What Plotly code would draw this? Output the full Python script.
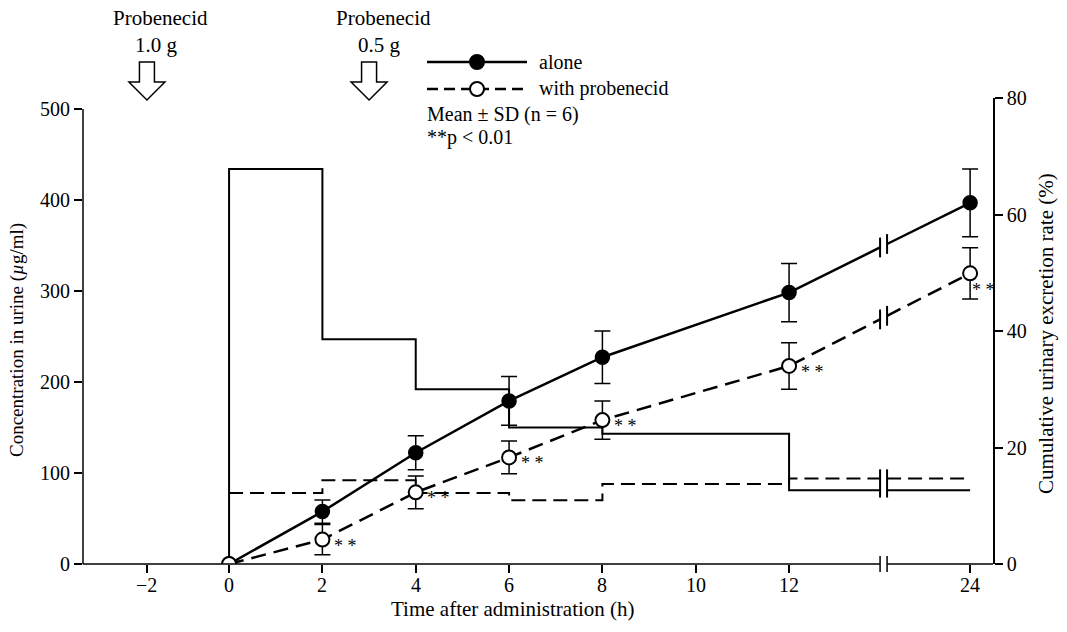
import plotly.graph_objects as go

# ---------------- data ----------------
x_tick_hours = [-2, 0, 2, 4, 6, 8, 10, 12, 24]
x_tick_labels = ["−2", "0", "2", "4", "6", "8", "10", "12", "24"]

step_edges = [0, 2, 4, 6, 8, 12, 24]          # urine collection intervals (h)
conc_alone = [434, 247, 192, 150, 143, 81]     # µg/ml
conc_prob = [78, 92, 78, 70, 88, 94]           # µg/ml

sample_times = [0, 2, 4, 6, 8, 12, 24]
cum_alone = [0, 9.0, 19.1, 28.0, 35.5, 46.6, 62.0]       # %
cum_alone_sd = [0, 2.0, 2.9, 4.2, 4.5, 5.0, 5.8]
cum_prob = [0, 4.2, 12.3, 18.3, 24.7, 34.0, 49.9]        # %
cum_prob_sd = [0, 2.6, 2.8, 2.8, 3.3, 4.0, 4.4]
signif_times = [2, 4, 6, 8, 12, 24]

dose_times = [-2, 3]
dose_labels = ["1.0 g", "0.5 g"]

# ---------------- layout helpers ----------------
W, H = 1067, 632
L, R, T, B = 83, 993, 98, 564      # plot area in page pixels
PW, PH = R - L, B - T
FONT = "Liberation Serif"
XMIN, XMAX = -3.13, 16.37
XB1, XB2 = 13.95, 14.10     # axis break (display units)
Y1MAX = 512.1
Y2MAX = 80


def xpos(t):
    """broken time axis -> display coordinate"""
    if t < 0:
        return t * 0.88
    if t <= 12:
        return t
    return 12 + (t - 12) * 0.3233


def px(p):
    return (p - L) / PW


def py(p):
    return (B - p) / PH


fig = go.Figure()

# ---- step lines (concentration, left axis) ----
def step_trace(vals, dash, start_zero):
    xs, ys = [], []
    if start_zero:
        xs.append(xpos(0)); ys.append(0)
    for e, v in zip(step_edges[:-1], vals):
        xs.append(xpos(e)); ys.append(v)
    xs += [XB1, None, XB2, xpos(step_edges[-1])]
    ys += [vals[-1], None, vals[-1], vals[-1]]
    return go.Scatter(x=xs, y=ys, mode="lines", line_shape="hv",
                      line=dict(color="black", width=2, dash=dash),
                      hoverinfo="skip", showlegend=False, yaxis="y")


fig.add_trace(step_trace(conc_alone, "solid", True))
fig.add_trace(step_trace(conc_prob, "14px,7px", False))

# ---- cumulative lines (right axis) ----
def cum_line(vals, dash):
    xd = [xpos(t) for t in sample_times]
    x12, x24 = xd[-2], xd[-1]
    v12, v24 = vals[-2], vals[-1]
    vb1 = v12 + (v24 - v12) * (XB1 - x12) / (x24 - x12)
    vb2 = v12 + (v24 - v12) * (XB2 - x12) / (x24 - x12)
    xs = xd[:-1] + [XB1, None, XB2, x24]
    ys = vals[:-1] + [vb1, None, vb2, v24]
    tr = go.Scatter(x=xs, y=ys, mode="lines",
                    line=dict(color="black", width=2.5, dash=dash),
                    hoverinfo="skip", showlegend=False, yaxis="y2")
    return tr, vb1, vb2


tr_a, ba1, ba2 = cum_line(cum_alone, "solid")
tr_p, bp1, bp2 = cum_line(cum_prob, "15px,8px")
fig.add_trace(tr_a)
fig.add_trace(tr_p)

fig.add_trace(go.Scatter(
    x=[xpos(t) for t in sample_times], y=cum_alone, mode="markers",
    marker=dict(size=14, color="black", line=dict(color="black", width=1.5)),
    error_y=dict(type="data", array=cum_alone_sd, color="black",
                 thickness=1.5, width=8),
    showlegend=False, yaxis="y2"))
fig.add_trace(go.Scatter(
    x=[xpos(t) for t in sample_times], y=cum_prob, mode="markers",
    marker=dict(size=14, color="white", line=dict(color="black", width=2)),
    error_y=dict(type="data", array=cum_prob_sd, color="black",
                 thickness=1.5, width=8),
    showlegend=False, yaxis="y2"))

shapes = []
line_k = dict(color="black", width=1.5)

# x axis line with break
shapes.append(dict(type="line", xref="x", yref="paper", x0=XMIN, x1=XB1,
                   y0=0, y1=0, line=line_k))
shapes.append(dict(type="line", xref="x", yref="paper", x0=XB2, x1=XMAX,
                   y0=0, y1=0, line=line_k))
for xb in (XB1, XB2):
    shapes.append(dict(type="line", xref="x", yref="paper", x0=xb, x1=xb,
                       y0=-8 / PH, y1=8 / PH, line=line_k))
    # break marks across step lines
    shapes.append(dict(type="line", xref="x", yref="y", x0=xb, x1=xb,
                       y0=min(conc_alone[-1], conc_prob[-1]) - 8,
                       y1=max(conc_alone[-1], conc_prob[-1]) + 10,
                       line=dict(color="black", width=2)))
# break marks on cumulative lines
for xb, v in ((XB1, ba1), (XB2, ba2), (XB1, bp1), (XB2, bp2)):
    shapes.append(dict(type="line", xref="x", yref="y2", x0=xb, x1=xb,
                       y0=v - 1.7, y1=v + 1.7,
                       line=dict(color="black", width=2)))

# left axis line (0..500)
shapes.append(dict(type="line", xref="paper", yref="y", x0=0, x1=0,
                   y0=0, y1=500, line=line_k))

# dosing arrows
ppx = PW / (XMAX - XMIN)
for t in dose_times:
    c = xpos(t)
    sw, hw = 7.5 / ppx, 18 / ppx
    y_top, y_mid, y_tip = py(62), py(82), py(100)
    path = (f"M {c - sw},{y_top} L {c + sw},{y_top} L {c + sw},{y_mid} "
            f"L {c + hw},{y_mid} L {c},{y_tip} L {c - hw},{y_mid} "
            f"L {c - sw},{y_mid} Z")
    shapes.append(dict(type="path", xref="x", yref="paper", path=path,
                       fillcolor="white", line=dict(color="black", width=1.5)))

# legend samples
shapes.append(dict(type="line", xref="paper", yref="paper", x0=px(427),
                   x1=px(527), y0=py(62), y1=py(62),
                   line=dict(color="black", width=2.5)))
shapes.append(dict(type="line", xref="paper", yref="paper", x0=px(427),
                   x1=px(527), y0=py(89), y1=py(89),
                   line=dict(color="black", width=2.5, dash="11px,6px")))
for yy, fc in ((62, "black"), (89, "white")):
    shapes.append(dict(type="circle", xref="paper", yref="paper",
                       x0=px(470), x1=px(484), y0=py(yy + 7), y1=py(yy - 7),
                       fillcolor=fc, line=dict(color="black", width=2)))

ann = []
f20 = dict(family=FONT, size=20, color="black")
f21 = dict(family=FONT, size=21, color="black")
for t, lab in zip(dose_times, dose_labels):
    ann.append(dict(x=xpos(t), y=py(18), xref="x", yref="paper",
                    text="Probenecid", showarrow=False, font=f21,
                    xshift=14, xanchor="center", yanchor="middle"))
    ann.append(dict(x=xpos(t), y=py(45), xref="x", yref="paper",
                    text=lab, showarrow=False, font=f21,
                    xshift=10, xanchor="center", yanchor="middle"))

ann.append(dict(x=px(537), y=py(62), xref="paper", yref="paper", text="alone",
                showarrow=False, font=f20, xanchor="left", yanchor="middle"))
ann.append(dict(x=px(537), y=py(89), xref="paper", yref="paper",
                text="with probenecid", showarrow=False, font=f20,
                xanchor="left", yanchor="middle"))
ann.append(dict(x=px(425), y=py(114), xref="paper", yref="paper",
                text="Mean ± SD (n = 6)", showarrow=False, font=f20,
                xanchor="left", yanchor="middle"))
ann.append(dict(x=px(425), y=py(138), xref="paper", yref="paper",
                text="**p < 0.01", showarrow=False, font=f20,
                xanchor="left", yanchor="middle"))

# significance marks
for t in signif_times:
    i = sample_times.index(t)
    last = t == sample_times[-1]
    ann.append(dict(x=xpos(t), y=cum_prob[i], xref="x", yref="y2",
                    text="* *", showarrow=False,
                    font=dict(family=FONT, size=18, color="black"),
                    xshift=13 if last else 23, yshift=-17 if last else -6,
                    xanchor="center", yanchor="middle"))

# x tick labels (placed close to the axis, as in the original)
for t, lab in zip(x_tick_hours, x_tick_labels):
    ann.append(dict(x=xpos(t), y=py(585), xref="x", yref="paper", text=lab,
                    showarrow=False, font=f20, xanchor="center",
                    yanchor="middle"))

# axis titles
ann.append(dict(x=px(17), y=py(340), xref="paper", yref="paper",
                text="Concentration in urine (<i>µ</i>g/ml)", textangle=-90,
                showarrow=False, font=dict(family=FONT, size=19, color="black"),
                xanchor="center", yanchor="middle"))
ann.append(dict(x=px(1046), y=py(334), xref="paper", yref="paper",
                text="Cumulative urinary excretion rate (%)", textangle=-90,
                showarrow=False, font=f21, xanchor="center", yanchor="middle"))
ann.append(dict(x=px(513), y=py(609), xref="paper", yref="paper",
                text="Time after administration (h)", showarrow=False,
                font=f21, xanchor="center", yanchor="middle"))

fig.update_layout(
    width=W, height=H,
    margin=dict(l=L, r=W - R, t=T, b=H - B, pad=0),
    paper_bgcolor="white", plot_bgcolor="white",
    font=f20, showlegend=False,
    xaxis=dict(range=[XMIN, XMAX], tickmode="array",
               tickvals=[xpos(t) for t in x_tick_hours],
               showticklabels=False,
               ticks="outside", ticklen=8, tickwidth=1.5, tickcolor="black",
               showline=False, showgrid=False, zeroline=False),
    yaxis=dict(range=[0, Y1MAX], tickmode="array",
               tickvals=[0, 100, 200, 300, 400, 500],
               ticks="outside", ticklen=8, tickwidth=1.5, tickcolor="black",
               showline=False, showgrid=False, zeroline=False, tickfont=f20),
    yaxis2=dict(range=[0, Y2MAX], overlaying="y", side="right",
                tickmode="array", tickvals=[0, 20, 40, 60, 80],
                ticks="outside", ticklen=8, tickwidth=1.5, tickcolor="black",
                showline=True, linecolor="black", linewidth=1.5,
                showgrid=False, zeroline=False, tickfont=f20),
    shapes=shapes, annotations=ann,
)

# the page should start at the top-left corner, like the original picture
fig.write_html("out.html",
               config={"displayModeBar": False},
               post_script="document.body.style.margin='0px';"
                           "document.body.style.overflow='hidden';")
